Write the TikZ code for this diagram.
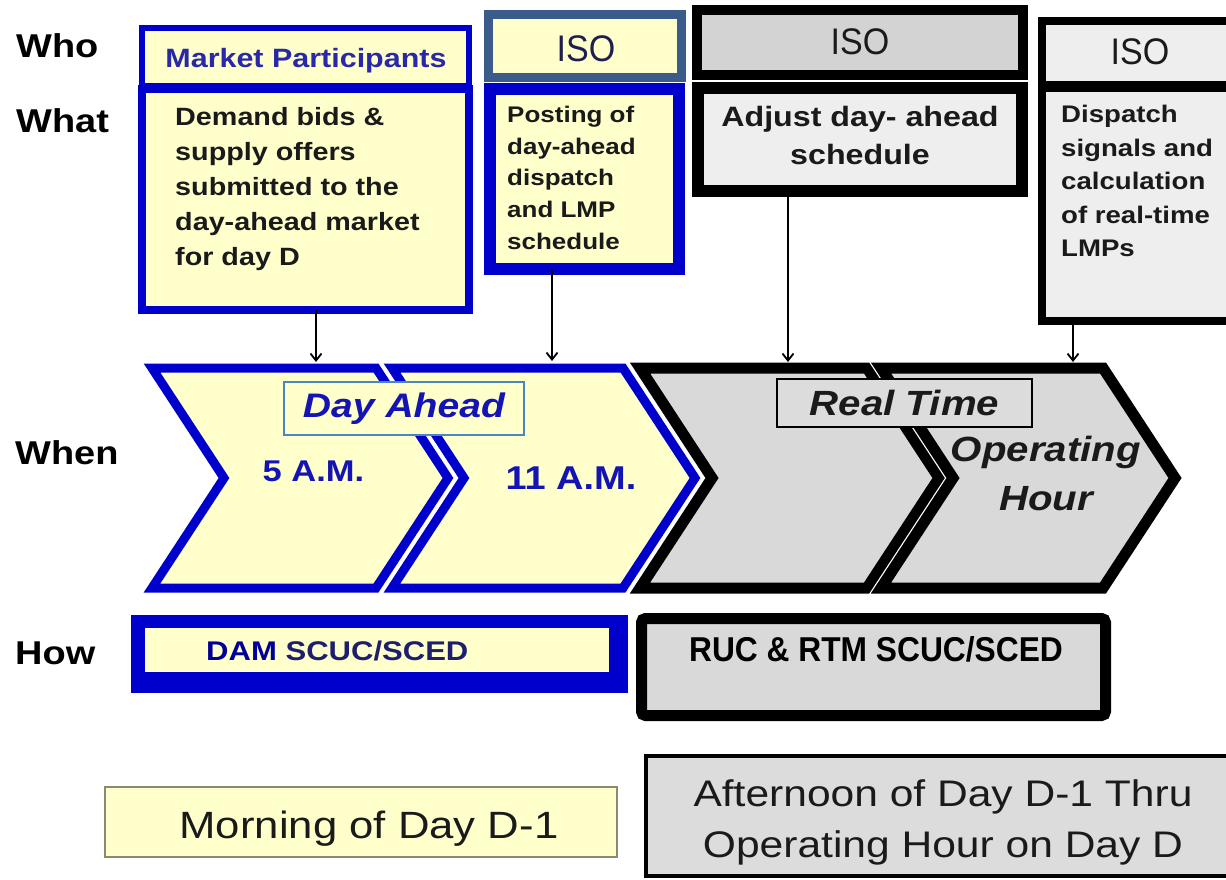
\documentclass[tikz,border=0pt]{standalone}
\usepackage{fontspec}
\setmainfont{Liberation Sans}[FakeStretch=1.15]
\newfontfamily\narrowfont{Liberation Sans}[FakeStretch=0.92]
\usetikzlibrary{arrows.meta,fit}
\definecolor{yel}{HTML}{FFFFCC}
\definecolor{bblue}{HTML}{0000CC}
\definecolor{steel}{HTML}{3B5B8B}
\definecolor{gchev}{HTML}{D9D9D9}
\definecolor{glight}{HTML}{EEEEEE}
\definecolor{gdark}{HTML}{D3D3D3}
\definecolor{gbox}{HTML}{DCDCDC}
\definecolor{mptext}{HTML}{2828A8}
\definecolor{navy}{HTML}{1E1E50}
\definecolor{damblue}{HTML}{000099}
\definecolor{scucblue}{HTML}{1E1E6E}
\definecolor{chevtext}{HTML}{1414B4}
\definecolor{dalabel}{HTML}{4A86C5}
\definecolor{olive}{HTML}{8A8A70}
\definecolor{txt}{HTML}{1A1A1A}
\begin{document}
\begin{tikzpicture}[x=1pt,y=-1pt,
  lbl/.style={font=\fontsize{33}{40}\selectfont\bfseries, text=black, inner sep=0, anchor=base west},
  arr/.style={line width=1.8, -{Straight Barb[length=7pt,width=11pt,line width=1.8pt]}},
  frame/.style={inner sep=0, outer sep=0},
  body/.style={inner sep=0, text=txt, align=left, anchor=north west},
]
\useasboundingbox (0,0) rectangle (1226,880);
\fill[white] (0,0) rectangle (1226,880);
\clip (0,0) rectangle (1226,880);

% row labels
\node[lbl] (who) at (16,58) {Who};
\node[lbl] (what) at (16,133) {What};
\node[lbl] (when) at (15,464) {When};
\node[lbl] (how) at (15,664) {How};

% box 1: market participants
\node[frame, fit={(142,28) (469,86)}, draw=bblue, line width=6, fill=yel] (mph) {};
\node[frame, fit={(142,89) (469,310)}, draw=bblue, line width=8, fill=yel] (mpb) {};
\node[anchor=base, font=\fontsize{26.5}{30}\selectfont\bfseries, text=mptext, inner sep=0] (mpt) at (306,68) {Market Participants};
\node[body, font=\fontsize{25}{35}\selectfont\bfseries] (mpd) at (175,107) {Demand bids \&\\supply offers\\submitted to the\\day-ahead market\\for day D};

% box 2: ISO posting
\node[frame, fit={(488,15) (681,78)}, draw=steel, line width=9, fill=yel] (iso2h) {};
\node[frame, fit={(490,89) (679,269)}, draw=bblue, line width=12, fill=yel] (iso2b) {};
\node[anchor=base, font=\narrowfont\fontsize{37}{40}\selectfont, text=navy, inner sep=0] (iso2) at (586,62) {ISO};
\node[body, font=\fontsize{22.6}{31.7}\selectfont\bfseries] (iso2d) at (507,106) {Posting of\\day-ahead\\dispatch\\and LMP\\schedule};

% box 3: ISO adjust
\node[frame, fit={(697,10) (1023,75)}, draw=black, line width=10, fill=gdark] (iso3h) {};
\node[frame, fit={(698,88) (1022,191)}, draw=black, line width=12, fill=glight] (iso3b) {};
\node[anchor=base, font=\narrowfont\fontsize{37}{40}\selectfont, text=txt, inner sep=0] (iso3) at (860,55) {ISO};
\node[inner sep=0, text=txt, align=center, anchor=north, font=\fontsize{28}{38}\selectfont\bfseries] (iso3d) at (860,106) {Adjust day- ahead\\schedule};

% box 4: ISO dispatch
\node[frame, fit={(1042,21) (1236,85)}, draw=black, line width=8, fill=glight] (iso4h) {};
\node[frame, fit={(1042,88) (1236,321)}, draw=black, line width=8, fill=glight] (iso4b) {};
\node[anchor=base, font=\narrowfont\fontsize{37}{40}\selectfont, text=txt, inner sep=0] (iso4) at (1140,65) {ISO};
\node[body, font=\fontsize{24}{33.5}\selectfont\bfseries] (iso4d) at (1061,105) {Dispatch\\signals and\\calculation\\of real-time\\LMPs};

% chevrons
\draw[white, line width=13] (152,368) -- (376,368) -- (448,478) -- (376,588) -- (152,588) -- (224,478) -- cycle;
\draw[fill=yel, draw=bblue, line width=9] (152,368) -- (376,368) -- (448,478) -- (376,588) -- (152,588) -- (224,478) -- cycle;
\draw[white, line width=13] (392,368) -- (623,368) -- (695,478) -- (623,588) -- (392,588) -- (464,478) -- cycle;
\draw[fill=yel, draw=bblue, line width=9] (392,368) -- (623,368) -- (695,478) -- (623,588) -- (392,588) -- (464,478) -- cycle;
\node[draw=dalabel, line width=2.5, fill=yel, minimum width=240, minimum height=53, inner sep=0, font=\fontsize{34}{40}\selectfont\bfseries\itshape, text=chevtext] (da) at (404,408.5) {Day Ahead};
\draw[white, line width=15] (640,368) -- (867,368) -- (939,478) -- (867,588) -- (640,588) -- (712,478) -- cycle;
\draw[fill=gchev, draw=black, line width=11] (640,368) -- (867,368) -- (939,478) -- (867,588) -- (640,588) -- (712,478) -- cycle;
\draw[white, line width=13.5] (881,368) -- (1103,368) -- (1175,478) -- (1103,588) -- (881,588) -- (953,478) -- cycle;
\draw[fill=gchev, draw=black, line width=11] (881,368) -- (1103,368) -- (1175,478) -- (1103,588) -- (881,588) -- (953,478) -- cycle;
\node[draw=black, line width=2.5, fill=gbox, minimum width=255, minimum height=48, inner sep=0, font=\fontsize{35}{40}\selectfont\bfseries\itshape, text=txt] (rt) at (904.5,403) {Real Time};

\node[anchor=base, font=\fontsize{30}{36}\selectfont\bfseries, text=chevtext, inner sep=0] (t5) at (313.5,481) {5 A.M.};
\node[anchor=base, font=\fontsize{33}{40}\selectfont\bfseries, text=chevtext, inner sep=0] (t11) at (571,489) {11 A.M.};
\node[inner sep=0, text=txt, align=center, anchor=north, font=\fontsize{35}{49}\selectfont\bfseries\itshape] (oh) at (1046,436) {Operating\\Hour};

% how row
\node[frame, fit={(131,615) (628,693)}, fill=bblue] (damo) {};
\node[frame, fit={(145,628) (609,672)}, fill=yel] (dami) {};
\node[anchor=base west, font=\fontsize{27}{32}\selectfont\bfseries, inner sep=0] (damt) at (206,660) {\textcolor{damblue}{DAM} \textcolor{scucblue}{SCUC/SCED}};
\node[frame, fit={(641.5,618.5) (1105.5,715.5)}, draw=black, line width=11, fill=gchev, rounded corners=4] (ruc) {};
\node[anchor=base, font=\narrowfont\fontsize{34.5}{40}\selectfont\bfseries, text=black, inner sep=0] (ruct) at (876,661) {RUC \& RTM SCUC/SCED};

% bottom period boxes
\node[frame, fit={(105,787) (617,857)}, draw=olive, line width=1.5, fill=yel] (morn) {};
\node[anchor=base, font=\fontsize{38}{44}\selectfont, text=txt, inner sep=0] (mornt) at (369,838) {Morning of Day D-1};
\node[frame, fit={(646,756) (1240,876)}, draw=black, line width=3.5, fill=gbox] (aft) {};
\node[inner sep=0, text=txt, align=center, anchor=north, font=\fontsize{37}{51}\selectfont] (aftt) at (943,779) {Afternoon of Day D-1 Thru\\Operating Hour on Day D};

% arrows
\coordinate (a1e) at (316,362);
\coordinate (a2e) at (552,361);
\coordinate (a3e) at (788,362);
\coordinate (a4e) at (1073,362);
\draw[arr] (mpb.south -| a1e) -- (a1e);
\draw[arr] (iso2b.south -| a2e) -- (a2e);
\draw[arr] (iso3b.south -| a3e) -- (a3e);
\draw[arr] (iso4b.south -| a4e) -- (a4e);
\end{tikzpicture}
\end{document}
